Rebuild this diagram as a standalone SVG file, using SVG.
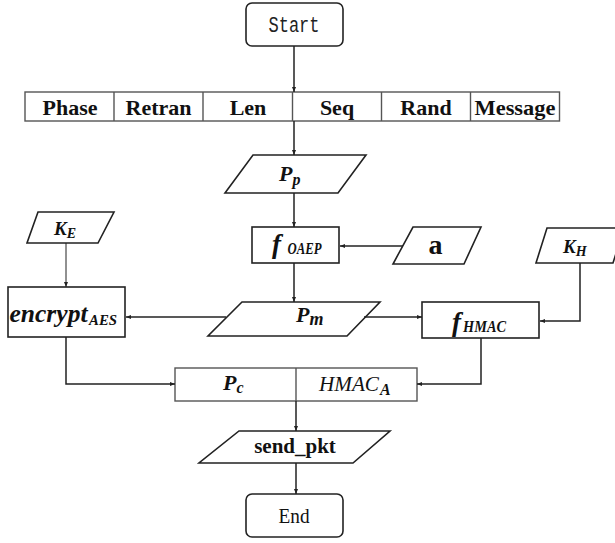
<svg xmlns="http://www.w3.org/2000/svg" width="615" height="543" viewBox="0 0 615 543">
<defs>
<marker id="ah" viewBox="0 0 10 10" refX="10" refY="5" markerWidth="5" markerHeight="5" orient="auto" markerUnits="userSpaceOnUse"><path d="M0,1 L10,5 L0,9 z" fill="#222"/></marker>
<style>
.shape{fill:#fff;stroke:#222;stroke-width:1.6}
.cell{fill:#fff;stroke:#555;stroke-width:1.4}
.conn{fill:none;stroke:#222;stroke-width:1.5;marker-end:url(#ah)}
.thin{stroke-width:1}
.mono{font-family:"Liberation Mono",monospace;fill:#222}
.serif{font-family:"Liberation Serif",serif;fill:#111}
.tb{font-family:"Liberation Serif",serif;font-weight:bold;fill:#111}
.m{font-family:"Liberation Serif",serif;font-weight:bold;font-style:italic;fill:#111}
.mi{font-family:"Liberation Serif",serif;font-style:italic;fill:#111}
</style>
</defs>
<rect width="615" height="543" fill="#fff"/>

<g id="start">
<rect class="shape" x="246" y="3" width="97" height="43" rx="6"/>
<text class="mono" x="268.5" y="32" font-size="22" textLength="51" lengthAdjust="spacingAndGlyphs">Start</text>
</g>

<g id="header">
<rect class="cell" x="25" y="92" width="534.5" height="29"/>
<line class="cell" x1="114" y1="92" x2="114" y2="121"/>
<line class="cell" x1="203" y1="92" x2="203" y2="121"/>
<line class="cell" x1="292.5" y1="92" x2="292.5" y2="121"/>
<line class="cell" x1="381.5" y1="92" x2="381.5" y2="121"/>
<line class="cell" x1="470.5" y1="92" x2="470.5" y2="121"/>
<g font-size="22">
<text class="tb" x="70" y="115" text-anchor="middle">Phase</text>
<text class="tb" x="158.5" y="115" text-anchor="middle">Retran</text>
<text class="tb" x="248" y="115" text-anchor="middle">Len</text>
<text class="tb" x="337" y="115" text-anchor="middle">Seq</text>
<text class="tb" x="426" y="115" text-anchor="middle">Rand</text>
<text class="tb" x="515" y="115" text-anchor="middle" textLength="81" lengthAdjust="spacingAndGlyphs">Message</text>
</g>
</g>

<g id="pp">
<polygon class="shape" points="253,155 366,155 338,193 225,193"/>
<text class="m" x="279" y="181" font-size="22">P<tspan font-size="16" dy="4">p</tspan></text>
</g>

<g id="foaep">
<rect class="shape" x="252" y="227" width="87" height="36"/>
<text class="m" x="272" y="253" font-size="27">f</text>
<text class="m" x="287.5" y="254" font-size="17" textLength="34" lengthAdjust="spacingAndGlyphs">OAEP</text>
</g>

<g id="a">
<polygon class="shape" points="413,227 481,227 464,264 393,264"/>
<text class="tb" x="435.5" y="254" font-size="28" text-anchor="middle">a</text>
</g>

<g id="ke">
<polygon class="shape" points="38,212 114,212 98,243 27,243"/>
<text class="m" x="54" y="235" font-size="19">K<tspan font-size="14" dy="3">E</tspan></text>
</g>

<g id="kh">
<polygon class="shape" points="547,228 624,228 613,263 536,263"/>
<text class="m" x="563" y="253" font-size="19">K<tspan font-size="14" dy="3">H</tspan></text>
</g>

<g id="encrypt">
<rect class="shape" x="8" y="287" width="117" height="50"/>
<text class="m" x="9.5" y="322" font-size="25" textLength="78" lengthAdjust="spacingAndGlyphs">encrypt</text>
<text class="m" x="89" y="325" font-size="15" textLength="28" lengthAdjust="spacingAndGlyphs">AES</text>
</g>

<g id="pm">
<polygon class="shape" points="242,302 380,302 347,336 208,336"/>
<text class="m" x="296" y="322" font-size="22">P<tspan font-size="18" dy="3">m</tspan></text>
</g>

<g id="fhmac">
<rect class="shape" x="422" y="302" width="117" height="36"/>
<text class="m" x="452" y="331" font-size="27">f</text>
<text class="m" x="463" y="332" font-size="16" textLength="43" lengthAdjust="spacingAndGlyphs">HMAC</text>
</g>

<g id="packet">
<rect class="cell" x="175" y="368" width="242" height="33"/>
<line class="cell" x1="296" y1="368" x2="296" y2="401"/>
<text class="m" x="223" y="390" font-size="22">P<tspan font-size="16" dy="3">c</tspan></text>
<text class="mi" x="319" y="391" font-size="21" textLength="60" lengthAdjust="spacingAndGlyphs">HMAC</text>
<text class="m" x="380" y="395" font-size="16">A</text>
</g>

<g id="send">
<polygon class="shape" points="239,431 390,431 353,463 199,463"/>
<text class="tb" x="295" y="453" font-size="21" text-anchor="middle">send_pkt</text>
</g>

<g id="end">
<rect class="shape" x="246" y="494" width="97" height="43" rx="6"/>
<text class="serif" x="278.5" y="523" font-size="21" textLength="31" lengthAdjust="spacingAndGlyphs">End</text>
</g>

<g id="connectors">
<path class="conn" d="M294,46 V92"/>
<path class="conn" d="M294,121 V155"/>
<path class="conn" d="M294,193 V227"/>
<path class="conn" d="M403,246 H340"/>
<path class="conn" d="M294,263 V302"/>
<path class="conn thin" d="M66,243 V287"/>
<path class="conn" d="M226,317 H126"/>
<path class="conn" d="M364,317 H422"/>
<path class="conn" d="M580,263 V321 H540"/>
<path class="conn" d="M66,337 V384 H175"/>
<path class="conn" d="M481,338 V384 H417"/>
<path class="conn" d="M296,401 V431"/>
<path class="conn" d="M296,463 V494"/>
</g>
</svg>
